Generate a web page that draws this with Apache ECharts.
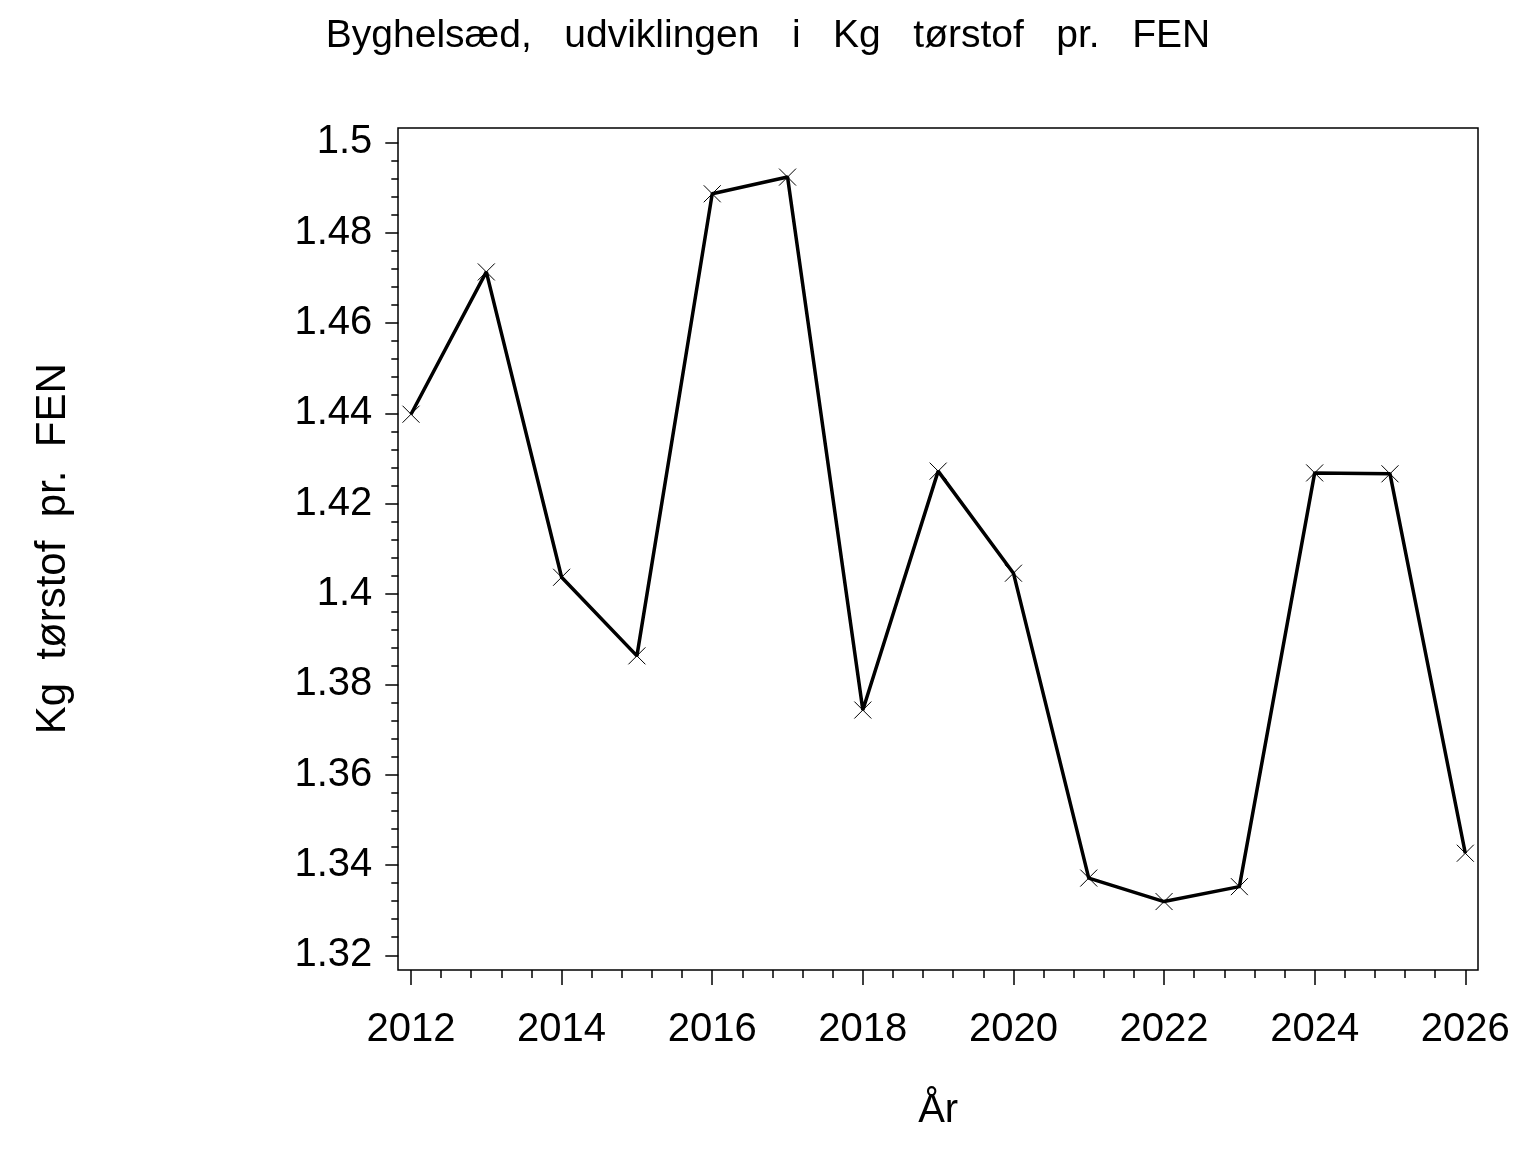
<!DOCTYPE html>
<html>
<head>
<meta charset="utf-8">
<script src="https://cdn.jsdelivr.net/npm/echarts@6/dist/echarts.min.js"></script>
<style>html,body{margin:0;padding:0;background:#fff;}#c{width:1536px;height:1152px;}</style>
</head>
<body>
<div id="c"></div>
<script>
const titleText = 'Byghelsæd,   udviklingen   i   Kg   tørstof   pr.   FEN';
const yName = 'Kg  tørstof  pr.  FEN';
const xName = 'År';
const years = [2012, 2013, 2014, 2015, 2016, 2017, 2018, 2019, 2020, 2021, 2022, 2023, 2024, 2025, 2026];
const values = [1.4398, 1.4713, 1.4037, 1.3863, 1.4886, 1.4923, 1.3743, 1.4272, 1.4046, 1.3371, 1.3319, 1.3352, 1.4268, 1.4266, 1.3426];
const xTickLabels = ['2012', '2014', '2016', '2018', '2020', '2022', '2024', '2026'];
const yTickLabels = ['1.32', '1.34', '1.36', '1.38', '1.4', '1.42', '1.44', '1.46', '1.48', '1.5'];

const FONT = '"Liberation Sans", Arial, Helvetica, sans-serif';
const chart = echarts.init(document.getElementById('c'), null, {renderer: 'canvas'});
const data = years.map((y, i) => [y, values[i]]);

chart.setOption({
  backgroundColor: '#fff',
  animation: false,
  title: {
    text: titleText,
    left: 'center',
    top: 12,
    textStyle: {fontFamily: FONT, fontSize: 39, fontWeight: 'normal', color: '#000'}
  },
  grid: [
    {left: 398, top: 128, width: 1080, height: 842, show: true, borderColor: '#000', borderWidth: 1.5, backgroundColor: 'transparent'},
    {left: 411, top: 142.3, width: 1054.3, height: 813}
  ],
  xAxis: [
    {gridIndex: 0, type: 'value', show: false, min: 0, max: 1},
    {
      gridIndex: 1, type: 'value', min: 2012, max: 2026, interval: 2, offset: 14.7,
      name: xName, nameLocation: 'middle', nameGap: 121,
      nameTextStyle: {fontFamily: FONT, fontSize: 40, color: '#000'},
      axisLine: {show: false},
      axisTick: {show: true, length: 15, lineStyle: {color: '#000', width: 1.5}},
      minorTick: {show: true, splitNumber: 5, length: 8, lineStyle: {color: '#000', width: 1.5}},
      splitLine: {show: false},
      minorSplitLine: {show: false},
      axisLabel: {
        margin: 40, fontFamily: FONT, fontSize: 40, color: '#000',
        formatter: v => xTickLabels.find(s => Number(s) === v) || ''
      }
    }
  ],
  yAxis: [
    {gridIndex: 0, type: 'value', show: false, min: 0, max: 1},
    {
      gridIndex: 1, type: 'value', min: 1.32, max: 1.5, interval: 0.02, offset: 12.7,
      name: yName, nameLocation: 'middle', nameGap: 324, nameRotate: 90,
      nameTextStyle: {fontFamily: FONT, fontSize: 42, color: '#000'},
      axisLine: {show: false},
      axisTick: {show: true, length: 13, lineStyle: {color: '#000', width: 1.5}},
      minorTick: {show: true, splitNumber: 5, length: 7, lineStyle: {color: '#000', width: 1.5}},
      splitLine: {show: false},
      minorSplitLine: {show: false},
      axisLabel: {
        margin: 26, fontFamily: FONT, fontSize: 40, color: '#000',
        formatter: v => yTickLabels.find(s => Math.abs(Number(s) - v) < 1e-9) || ''
      }
    }
  ],
  series: [{
    type: 'line',
    xAxisIndex: 1,
    yAxisIndex: 1,
    data: data,
    symbol: 'path://M0,0L10,10M10,0L0,10',
    symbolSize: 17,
    showAllSymbol: true,
    lineStyle: {color: '#000', width: 3.5},
    itemStyle: {color: 'none', borderColor: '#000', borderWidth: 1},
    z: 3
  }]
});
</script>
</body>
</html>
